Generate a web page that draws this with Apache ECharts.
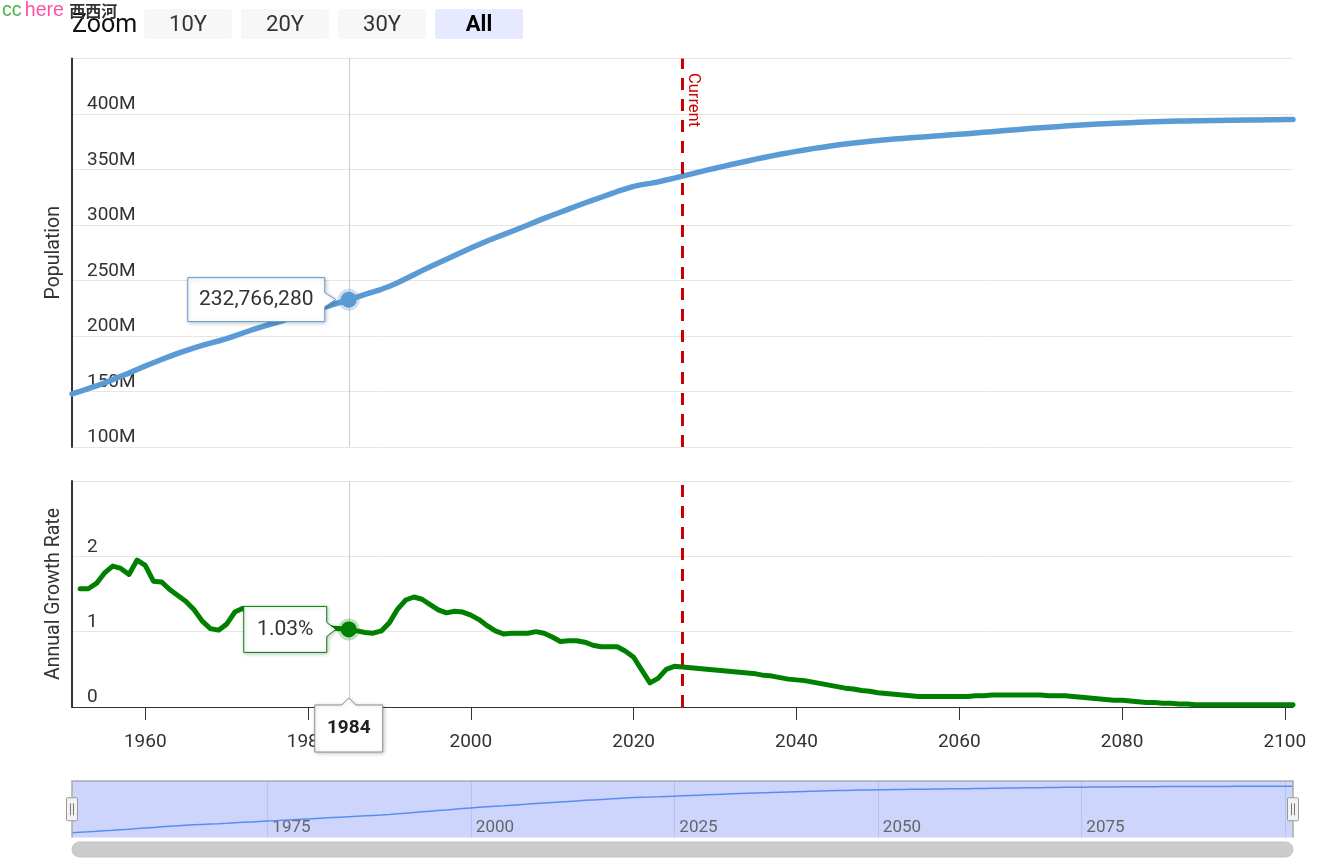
<!DOCTYPE html>
<html><head><meta charset="utf-8">
<script src="https://cdn.jsdelivr.net/npm/echarts@6/dist/echarts.min.js"></script>
<style>html,body{margin:0;padding:0;background:#fff}#c{width:1327px;height:868px}</style>
</head><body><div id="c"></div>
<script>
// ---------------- data ----------------
const START_YEAR = 1950;           // first population year
// Population (millions), one value per year 1950..2100
const population = [
147.8,150.1,152.5,155.0,157.8,160.7,163.7,166.6,169.8,173.0,
175.9,178.8,181.6,184.3,186.9,189.3,191.5,193.5,195.5,197.6,
200.1,202.7,205.2,207.5,209.7,211.9,214.1,216.3,218.6,221.0,
223.4,225.8,228.2,230.4,232.76628,235.1,237.4,239.7,242.1,244.8,
248.0,251.5,255.2,258.9,262.4,265.8,269.1,272.5,275.9,279.3,
282.5,285.6,288.5,291.3,294.2,297.1,300.0,303.0,306.0,308.8,
311.5,314.3,317.1,319.8,322.4,325.0,327.6,330.2,332.6,334.8,
336.4,337.5,338.8,340.5,342.3,344.1,345.9,347.7,349.4,351.1,
352.8,354.5,356.1,357.7,359.3,360.8,362.3,363.7,365.0,366.3,
367.6,368.8,369.9,371.0,372.0,372.9,373.8,374.6,375.4,376.1,
376.8,377.4,378.0,378.6,379.1,379.6,380.1,380.7,381.2,381.8,
382.3,382.9,383.5,384.1,384.7,385.3,385.9,386.5,387.1,387.6,
388.1,388.6,389.1,389.6,390.1,390.5,390.9,391.3,391.6,391.9,
392.2,392.5,392.7,393.0,393.2,393.4,393.6,393.8,393.9,394.0,
394.1,394.2,394.3,394.4,394.5,394.6,394.7,394.8,394.9,395.0,
395.1
];
const GROWTH_START = 1951;         // first growth-rate year
// Annual growth rate (%), one value per year 1951..2100
const growthRate = [
1.57,1.57,1.64,1.78,1.87,1.84,1.76,1.95,1.88,1.67,
1.66,1.56,1.48,1.40,1.29,1.14,1.04,1.02,1.10,1.26,
1.31,1.22,1.12,1.06,1.03,1.02,1.04,1.07,1.09,1.09,
1.07,1.05,1.04,1.03,1.01,0.99,0.98,1.01,1.12,1.30,
1.42,1.46,1.43,1.36,1.29,1.25,1.27,1.26,1.22,1.16,
1.08,1.01,0.97,0.98,0.98,0.98,1.00,0.98,0.93,0.87,
0.88,0.88,0.86,0.82,0.80,0.80,0.80,0.74,0.66,0.49,
0.32,0.38,0.50,0.54,0.53,0.52,0.51,0.50,0.49,0.48,
0.47,0.46,0.45,0.44,0.42,0.41,0.39,0.37,0.36,0.35,
0.33,0.31,0.29,0.27,0.25,0.24,0.22,0.21,0.19,0.18,
0.17,0.16,0.15,0.14,0.14,0.14,0.14,0.14,0.14,0.14,
0.15,0.15,0.16,0.16,0.16,0.16,0.16,0.16,0.16,0.15,
0.15,0.15,0.14,0.13,0.12,0.11,0.10,0.09,0.09,0.08,
0.07,0.06,0.06,0.05,0.05,0.04,0.04,0.03,0.03,0.03,
0.03,0.03,0.03,0.03,0.03,0.03,0.03,0.03,0.03,0.03
];
const CURRENT_YEAR = 2025;
const TOOLTIP_YEAR = 1984;
const xTickYears = [1960, 1980, 2000, 2020, 2040, 2060, 2080, 2100];
const navGridYears = [1975, 2000, 2025, 2050, 2075, 2100];
const navLabelYears = [1975, 2000, 2025, 2050, 2075];
const rangeButtons = ['10Y', '20Y', '30Y', 'All'];
const SELECTED_BUTTON = 'All';
// the source places each year's point at the end of that year
const POS_OFFSET = 1;

// ---------------- chart ----------------
const FONT = 'Roboto, "Noto Sans", sans-serif';
const pos = y => y + POS_OFFSET;
const popData = population.map((v, i) => [pos(START_YEAR + i), v]);
const growthData = growthRate.map((v, i) => [pos(GROWTH_START + i), v]);
const X_MIN = pos(START_YEAR), X_MAX = pos(START_YEAR + population.length - 1);
const popTip = population[TOOLTIP_YEAR - START_YEAR];
const growthTip = growthRate[TOOLTIP_YEAR - GROWTH_START];

const BLUE = '#5b9bd5', GREEN = '#008000', RED = '#cc0000';

const chart = echarts.init(document.getElementById('c'), null, {renderer: 'canvas'});

const markLines = {
  silent: true, animation: false, symbol: ['none', 'none'], label: {show: false},
  emphasis: {disabled: true},
  data: [
    {xAxis: pos(TOOLTIP_YEAR), lineStyle: {color: '#cccccc', width: 1, type: 'solid'}},
    {xAxis: pos(CURRENT_YEAR), lineStyle: {color: RED, width: 3, type: [12, 9]}}
  ]
};

const option = {
  animation: false,
  textStyle: {fontFamily: FONT},
  grid: [
    {left: 72, right: 34, top: 58.5, height: 388.5},
    {left: 72, right: 34, top: 481, height: 226},
    {left: 72, right: 34, top: 781, height: 56.5, show: true, backgroundColor: '#cdd5fd', borderWidth: 0}
  ],
  xAxis: [
    {gridIndex: 0, type: 'value', min: X_MIN, max: X_MAX, show: false},
    {gridIndex: 1, type: 'value', min: X_MIN, max: X_MAX,
     axisLine: {show: true, onZero: false, lineStyle: {color: '#333', width: 1}},
     axisTick: {show: true, customValues: xTickYears, length: 13, lineStyle: {color: '#333', width: 1}},
     axisLabel: {customValues: xTickYears, formatter: v => String(v), fontSize: 19, color: '#333', margin: 26, fontFamily: FONT},
     splitLine: {show: false}},
    {gridIndex: 2, type: 'value', min: X_MIN, max: X_MAX,
     axisLine: {show: false},
     axisTick: {show: false, customValues: navGridYears},
     axisLabel: {customValues: navLabelYears, inside: true, formatter: v => String(v), align: 'left',
                 padding: [0, 0, 0, 5], margin: 1, fontSize: 17, color: '#666', fontFamily: FONT},
     splitLine: {show: true, lineStyle: {color: '#b9c2ee', width: 1}}}
  ],
  yAxis: [
    {gridIndex: 0, type: 'value', min: 100, max: 450, interval: 50,
     axisLine: {show: true, lineStyle: {color: '#333', width: 2}},
     axisTick: {show: false},
     axisLabel: {inside: true, margin: 15, align: 'left', verticalAlign: 'bottom', fontSize: 19, color: '#333',
                 formatter: v => v + 'M', showMaxLabel: false, fontFamily: FONT},
     splitLine: {lineStyle: {color: '#e6e6e6', width: 1}},
     name: 'Population', nameLocation: 'middle', nameGap: 7,
     nameTextStyle: {fontSize: 19.5, color: '#333', fontFamily: FONT}},
    {gridIndex: 1, type: 'value', min: 0, max: 3, interval: 1,
     axisLine: {show: true, lineStyle: {color: '#333', width: 2}},
     axisTick: {show: false},
     axisLabel: {inside: true, margin: 15, align: 'left', verticalAlign: 'bottom', fontSize: 19, color: '#333',
                 showMaxLabel: false, fontFamily: FONT},
     splitLine: {lineStyle: {color: '#e6e6e6', width: 1}},
     name: 'Annual Growth Rate', nameLocation: 'middle', nameGap: 7,
     nameTextStyle: {fontSize: 19.5, color: '#333', fontFamily: FONT}},
    {gridIndex: 2, type: 'value', min: 122, max: 423, show: false}
  ],
  series: [
    {type: 'line', name: 'Population', xAxisIndex: 0, yAxisIndex: 0, data: popData,
     showSymbol: false, silent: true, lineStyle: {color: BLUE, width: 5.5, join: 'round', cap: 'round'},
     markLine: markLines,
     markPoint: {silent: true, animation: false, label: {show: false},
       data: [{coord: [pos(TOOLTIP_YEAR), popTip], symbol: 'circle', symbolSize: 16,
               itemStyle: {color: BLUE, borderColor: 'rgba(91,155,213,0.3)', borderWidth: 6}}]}},
    {type: 'line', name: 'Annual Growth Rate', xAxisIndex: 1, yAxisIndex: 1, data: growthData,
     showSymbol: false, silent: true, lineStyle: {color: GREEN, width: 5, join: 'round', cap: 'round'},
     markLine: markLines,
     markPoint: {silent: true, animation: false, label: {show: false},
       data: [{coord: [pos(TOOLTIP_YEAR), growthTip], symbol: 'circle', symbolSize: 16,
               itemStyle: {color: GREEN, borderColor: 'rgba(0,128,0,0.25)', borderWidth: 6}}]}},
    {type: 'line', name: 'Navigator', xAxisIndex: 2, yAxisIndex: 2, data: popData,
     showSymbol: false, silent: true, lineStyle: {color: '#5b8def', width: 1.5}}
  ]
};
chart.setOption(option);

// ---------- overlays (positions taken from the chart's own scales) ----------
const P1 = chart.convertToPixel({gridIndex: 0}, [pos(TOOLTIP_YEAR), popTip]);
const P2 = chart.convertToPixel({gridIndex: 1}, [pos(TOOLTIP_YEAR), growthTip]);
const axisY = chart.convertToPixel({gridIndex: 1}, [pos(TOOLTIP_YEAR), 0])[1];
const curX = chart.convertToPixel({xAxisIndex: 0}, pos(CURRENT_YEAR));
const topY = chart.convertToPixel({gridIndex: 0}, [X_MIN, 450])[1];
const navL = chart.convertToPixel({xAxisIndex: 2}, X_MIN);
const navR = chart.convertToPixel({xAxisIndex: 2}, X_MAX);
const navT = chart.convertToPixel({gridIndex: 2}, [X_MIN, 423])[1];
const navB = chart.convertToPixel({gridIndex: 2}, [X_MIN, 122])[1];

const shadow = {shadowBlur: 4, shadowColor: 'rgba(0,0,0,0.22)', shadowOffsetX: 1, shadowOffsetY: 1};

function leftCallout(P, w, h, gap, color, text) {
  const R = P[0] - gap, L = R - w, T = P[1] - h / 2, B = P[1] + h / 2, cy = P[1];
  return [
    {type: 'polygon', z: 100, shape: {points: [[L, T], [R, T], [R, cy - 7], [P[0] - 13, cy], [R, cy + 7], [R, B], [L, B]]},
     style: Object.assign({fill: '#fff', stroke: color, lineWidth: 1}, shadow)},
    {type: 'text', z: 101, style: {text: text, x: (L + R) / 2, y: cy, textAlign: 'center', textVerticalAlign: 'middle',
      font: '21px ' + FONT, fill: '#333'}}
  ];
}

const popLabel = Math.round(popTip * 1e6).toLocaleString('en-US');
const growthLabel = growthTip.toFixed(2) + '%';

const graphics = [];
graphics.push(...leftCallout(P1, 137, 44, 24, BLUE, popLabel));
graphics.push(...leftCallout(P2, 83, 46, 22, GREEN, growthLabel));

// year label under the crosshair
{
  const cx = P2[0], T = axisY - 2, B = axisY + 45, L = cx - 34, R = cx + 34;
  graphics.push({type: 'polygon', z: 100, shape: {points: [[L, T], [cx - 7, T], [cx, T - 7], [cx + 7, T], [R, T], [R, B], [L, B]]},
    style: Object.assign({fill: '#fff', stroke: '#8c8c8c', lineWidth: 1}, shadow)});
  graphics.push({type: 'text', z: 101, style: {text: String(TOOLTIP_YEAR), x: cx, y: (T + B) / 2, textAlign: 'center',
    textVerticalAlign: 'middle', font: 'bold 19px ' + FONT, fill: '#222'}});
}

// "Current" label on the plot line
graphics.push({type: 'text', z: 50, x: curX + 2, y: topY + 14.5, rotation: -Math.PI / 2,
  style: {text: 'Current', x: 0, y: 0, textAlign: 'left', textVerticalAlign: 'bottom', font: '16.5px ' + FONT, fill: RED}});

// navigator outline, handles and scrollbar
graphics.push({type: 'polyline', z: 60, shape: {points: [[navL, navB], [navL, navT], [navR, navT], [navR, navB]]},
  style: {stroke: '#aaaaaa', lineWidth: 1.5, fill: null}});
[navL, navR].forEach(hx => {
  const cy = (navT + navB) / 2;
  graphics.push({type: 'rect', z: 61, shape: {x: hx - 5.5, y: cy - 11.5, width: 11, height: 23, r: 1},
    style: {fill: '#f2f2f2', stroke: '#999', lineWidth: 1}});
  graphics.push({type: 'line', z: 62, shape: {x1: hx - 1.5, y1: cy - 6, x2: hx - 1.5, y2: cy + 6}, style: {stroke: '#777', lineWidth: 1}});
  graphics.push({type: 'line', z: 62, shape: {x1: hx + 1.5, y1: cy - 6, x2: hx + 1.5, y2: cy + 6}, style: {stroke: '#777', lineWidth: 1}});
});
graphics.push({type: 'rect', z: 60, shape: {x: navL, y: navB + 4.5, width: navR - navL, height: 15, r: 7.5},
  style: {fill: '#cccccc', stroke: '#c2c2c2', lineWidth: 1}});

// range selector
graphics.push({type: 'text', z: 70, style: {text: 'Zoom', x: 72, y: 26, textAlign: 'left', textVerticalAlign: 'middle',
  font: '25px ' + FONT, fill: '#111'}});
rangeButtons.forEach((b, i) => {
  const bx = 144 + i * 97, sel = b === SELECTED_BUTTON;
  graphics.push({type: 'rect', z: 70, shape: {x: bx, y: 9, width: 88, height: 30, r: 3},
    style: {fill: sel ? '#e6e9ff' : '#f7f7f7'}});
  graphics.push({type: 'text', z: 71, style: {text: b, x: bx + 44, y: 25, textAlign: 'center', textVerticalAlign: 'middle',
    font: (sel ? 'bold ' : '') + '22px ' + FONT, fill: sel ? '#000' : '#333'}});
});

// top-left overlay text
graphics.push({type: 'text', z: 200, style: {
  text: '{a|cc} {b|here} {c|西西河}', x: 2, y: 11, textAlign: 'left', textVerticalAlign: 'middle',
  rich: {
    a: {fontSize: 19.5, fontFamily: 'Arial, "Liberation Sans", sans-serif', fill: '#4caf50'},
    b: {fontSize: 19.5, fontFamily: 'Arial, "Liberation Sans", sans-serif', fill: '#ff4fa3'},
    c: {fontSize: 16, fontFamily: '"Noto Sans CJK SC", sans-serif', fill: '#333', fontWeight: 'bold', padding: [0, 0, 0, 2]}
  }}});

chart.setOption({graphic: graphics});
</script>
</body></html>
